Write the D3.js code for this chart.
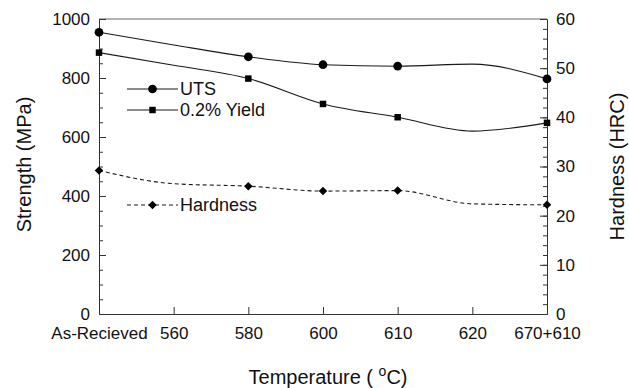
<!DOCTYPE html>
<html>
<head>
<meta charset="utf-8">
<script src="https://cdn.jsdelivr.net/npm/d3@7"></script>
<style>
  body { margin: 0; background: #fff; }
  text { font-family: Arial, "Liberation Sans", sans-serif; fill: #111; }
</style>
</head>
<body>
<div id="chart"></div>
<script>
// data
const categories = ["As-Recieved", "560", "580", "600", "610", "620", "670+610"];
const utsValues = [955, 912, 872, 845, 840, 847, 797];
const yieldValues = [886, 843, 798, 712, 667, 620, 648];
const hardnessValues = [29.2, 26.5, 26.0, 25.0, 25.1, 22.4, 22.2];
const markerIdx = [0, 2, 3, 4, 6];   // points that carry a symbol
const strengthTicks = [0, 200, 400, 600, 800, 1000];
const hardnessTicks = [0, 10, 20, 30, 40, 50, 60];

const W = 629, H = 388;
const margin = {top: 19, right: 82, bottom: 74, left: 99};
const width = W - margin.left - margin.right;
const height = H - margin.top - margin.bottom;

const svg = d3.select("#chart").append("svg")
    .attr("width", W)
    .attr("height", H)
  .append("g")
    .attr("transform", `translate(${margin.left},${margin.top})`);

const x = d3.scalePoint().domain(categories).range([0, width]);
const yL = d3.scaleLinear().domain([0, 1000]).range([height, 0]);
const yR = d3.scaleLinear().domain([0, 60]).range([height, 0]);

const axisColor = "#333";

// frame top
svg.append("line")
    .attr("x1", 0).attr("x2", width)
    .attr("y1", 0).attr("y2", 0)
    .attr("stroke", "#666").attr("stroke-width", 1);

// left axis: minor ticks then major ticks, all pointing inward
svg.append("g")
    .call(d3.axisRight(yL).tickValues(d3.range(0, 1001, 50)).tickSize(4).tickFormat(""))
    .call(g => g.select(".domain").remove())
    .selectAll("line").attr("stroke", axisColor);
const leftAxis = svg.append("g")
    .call(d3.axisLeft(yL).tickValues(strengthTicks).tickSize(-7).tickFormat(d3.format("d")));
leftAxis.selectAll("line").attr("stroke", axisColor);
leftAxis.select(".domain").attr("stroke", axisColor);
leftAxis.selectAll("text").style("font-size", "17px")
    .attr("x", -9).attr("fill", "#111");

// right axis
svg.append("g")
    .attr("transform", `translate(${width},0)`)
    .call(d3.axisLeft(yR).tickValues(d3.range(0, 61, 2)).tickSize(4).tickFormat(""))
    .call(g => g.select(".domain").remove())
    .selectAll("line").attr("stroke", axisColor);
const rightAxis = svg.append("g")
    .attr("transform", `translate(${width},0)`)
    .call(d3.axisRight(yR).tickValues(hardnessTicks).tickSize(-7));
rightAxis.selectAll("line").attr("stroke", axisColor);
rightAxis.select(".domain").attr("stroke", axisColor);
rightAxis.selectAll("text").style("font-size", "17px")
    .attr("x", 9).attr("fill", "#111");

// bottom axis
const bottomAxis = svg.append("g")
    .attr("transform", `translate(0,${height})`)
    .call(d3.axisBottom(x).tickSize(-7));
bottomAxis.selectAll("line").attr("stroke", axisColor);
bottomAxis.select(".domain").attr("stroke", axisColor);
bottomAxis.selectAll("text").style("font-size", "17px")
    .attr("y", 13).attr("fill", "#111");

// series
const lineColor = "#1a1a1a";
const series = [
  {name: "UTS", values: utsValues, y: yL, symbol: d3.symbolCircle, size: 60, rot: 0, dash: null, legendY: 89},
  {name: "0.2% Yield", values: yieldValues, y: yL, symbol: d3.symbolSquare, size: 42, rot: 0, dash: null, legendY: 110},
  {name: "Hardness", values: hardnessValues, y: yR, symbol: d3.symbolSquare, size: 36, rot: 45, dash: "4,3", legendY: 205}
];

series.forEach(s => {
  const line = d3.line()
      .curve(d3.curveMonotoneX)
      .x((d, i) => x(categories[i]))
      .y(d => s.y(d));

  svg.append("path")
      .datum(s.values)
      .attr("fill", "none")
      .attr("stroke", lineColor)
      .attr("stroke-width", 1.1)
      .attr("stroke-dasharray", s.dash)
      .attr("d", line);

  svg.selectAll(null)
      .data(markerIdx)
      .join("path")
      .attr("transform", i => `translate(${x(categories[i])},${s.y(s.values[i])}) rotate(${s.rot})`)
      .attr("d", d3.symbol().type(s.symbol).size(s.size))
      .attr("fill", "#000");

  // legend entry
  const lx0 = 127 - margin.left, lx1 = 178 - margin.left, ly = s.legendY - margin.top;
  svg.append("line")
      .attr("x1", lx0).attr("x2", lx1)
      .attr("y1", ly).attr("y2", ly)
      .attr("stroke", lineColor)
      .attr("stroke-width", 1.1)
      .attr("stroke-dasharray", s.dash);
  svg.append("path")
      .attr("transform", `translate(${(lx0 + lx1) / 2},${ly}) rotate(${s.rot})`)
      .attr("d", d3.symbol().type(s.symbol).size(s.size))
      .attr("fill", "#000");
  svg.append("text")
      .attr("x", lx1 + 2)
      .attr("y", ly)
      .attr("dy", "0.36em")
      .style("font-size", "18px")
      .text(s.name);
});

// axis titles
svg.append("text")
    .attr("transform", `translate(${24 - margin.left},${height / 2 - 2}) rotate(-90)`)
    .attr("text-anchor", "middle")
    .attr("dy", "0.36em")
    .style("font-size", "20px")
    .text("Strength (MPa)");

svg.append("text")
    .attr("transform", `translate(${617 - margin.left},${height / 2}) rotate(-90)`)
    .attr("text-anchor", "middle")
    .attr("dy", "0.36em")
    .style("font-size", "20px")
    .text("Hardness (HRC)");

const xTitle = svg.append("text")
    .attr("x", width / 2 + 5)
    .attr("y", 384 - margin.top)
    .attr("text-anchor", "middle")
    .style("font-size", "20px");
xTitle.append("tspan").text("Temperature ( ");
xTitle.append("tspan").attr("baseline-shift", "super").style("font-size", "14px").text("o");
xTitle.append("tspan").text("C)");
</script>
</body>
</html>
